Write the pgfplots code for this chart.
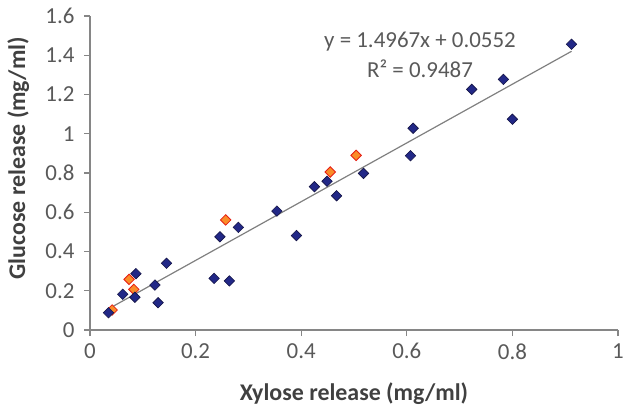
\documentclass[border=0pt]{standalone}
\usepackage{pgfplots}
\pgfplotsset{compat=1.18}
\usepackage{fontspec}
\setmainfont{Carlito}

\definecolor{axisgray}{RGB}{134,134,134}
\definecolor{labelgray}{RGB}{89,89,89}
\definecolor{titlegray}{RGB}{64,64,64}
\definecolor{navyfill}{RGB}{34,40,135}
\definecolor{navydraw}{RGB}{20,20,70}
\definecolor{redfill}{RGB}{250,140,40}
\definecolor{reddraw}{RGB}{230,30,20}
\definecolor{trendgray}{RGB}{128,128,128}

\begin{document}
\begin{tikzpicture}
\begin{axis}[
  scale only axis,
  width=528bp, height=314bp,
  xmin=0, xmax=1, ymin=0, ymax=1.6,
  axis x line=bottom, axis y line=left,
  axis line style={-, draw=axisgray, line width=1.3bp},
  xtick={0,0.2,0.4,0.6,0.8,1},
  ytick={0,0.2,0.4,0.6,0.8,1,1.2,1.4,1.6},
  tick align=outside,
  major tick length=6bp,
  tick style={draw=axisgray, line width=1.1bp},
  /pgf/number format/assume math mode=true,
  ticklabel style={font=\fontsize{23}{27}\selectfont, text=labelgray},
  xticklabel style={yshift=-4bp},
  yticklabel style={xshift=-6bp},
  xlabel={Xylose release (mg/ml)},
  ylabel={Glucose release (mg/ml)},
  label style={font=\bfseries\fontsize{24}{28}\selectfont, text=titlegray},
  xlabel style={at={(axis description cs:0.5,0)}, anchor=base, yshift=-70bp},
  ylabel style={at={(axis description cs:-0.136,0.547)}, anchor=center},
  clip=false,
]
% red series
\addplot[only marks, mark=square*, mark size=3.7bp,
  mark options={rotate=45, fill=redfill, draw=reddraw, line width=0.8bp}]
  coordinates {
  (0.042,0.102) (0.074,0.258) (0.083,0.207)
  (0.257,0.561) (0.455,0.805) (0.504,0.890)
  };
% blue series
\addplot[only marks, mark=square*, mark size=3.7bp,
  mark options={rotate=45, fill=navyfill, draw=navydraw, line width=0.6bp}]
  coordinates {
  (0.035,0.088) (0.062,0.182) (0.087,0.287) (0.085,0.167)
  (0.123,0.229) (0.129,0.139) (0.145,0.340) (0.235,0.263)
  (0.246,0.475) (0.264,0.250) (0.281,0.523) (0.354,0.606)
  (0.391,0.481) (0.425,0.730) (0.449,0.758) (0.467,0.684)
  (0.518,0.798) (0.607,0.888) (0.612,1.028) (0.723,1.226)
  (0.783,1.277) (0.800,1.074) (0.912,1.456)
  };
% linear trend line y = 1.4967x + 0.0552
\addplot[draw=trendgray, line width=1.2bp] coordinates {(0.035,0.1076) (0.912,1.4202)};
\node[align=center, font=\fontsize{23}{30}\selectfont, text=labelgray]
  at (axis cs:0.625,1.40) {y = 1.4967x + 0.0552\\R² = 0.9487};
\end{axis}
\pgfresetboundingbox
\path[use as bounding box] (current axis.south west) ++(-90bp,-76bp) rectangle ([xshift=5bp,yshift=16bp]current axis.north east);
\end{tikzpicture}
\end{document}
